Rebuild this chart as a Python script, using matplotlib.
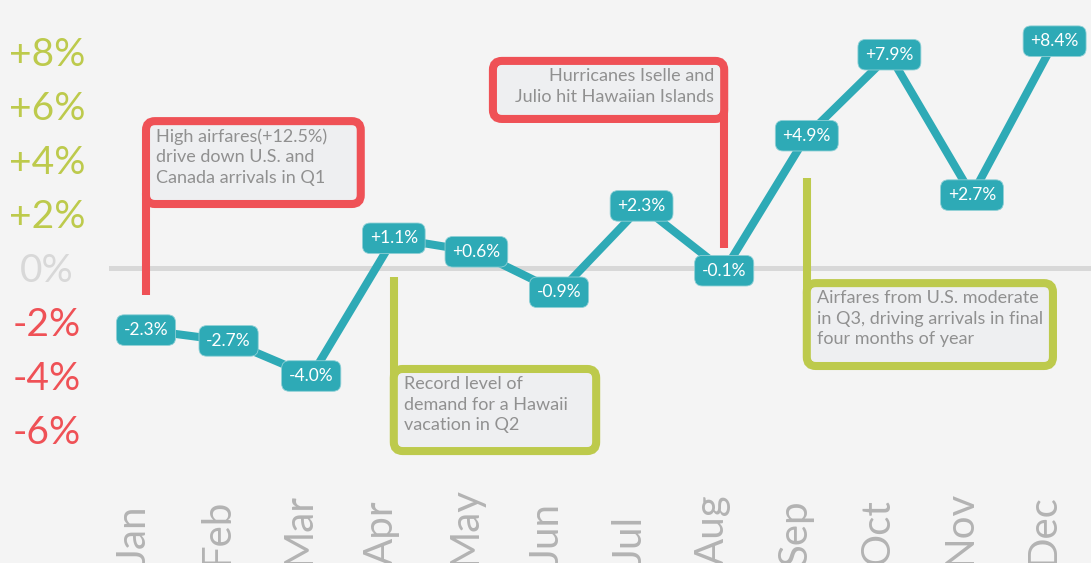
import matplotlib
matplotlib.use("Agg")
from matplotlib import pyplot as plt
from matplotlib import transforms
from matplotlib.patches import FancyBboxPatch

plt.rcParams['font.family'] = ['Lato', 'DejaVu Sans']

months = ['Jan', 'Feb', 'Mar', 'Apr', 'May', 'Jun',
          'Jul', 'Aug', 'Sep', 'Oct', 'Nov', 'Dec']
changes = [-2.3, -2.7, -4.0, 1.1, 0.6, -0.9, 2.3, -0.1, 4.9, 7.9, 2.7, 8.4]
ytick_values = [8, 6, 4, 2, 0, -2, -4, -6]

note_texts = [
    "High airfares(+12.5%)\ndrive down U.S. and\nCanada arrivals in Q1",
    "Hurricanes Iselle and\nJulio hit Hawaiian Islands",
    "Record level of\ndemand for a Hawaii\nvacation in Q2",
    "Airfares from U.S. moderate\nin Q3, driving arrivals in final\nfour months of year",
]

TEAL = '#2eaab6'
RED = '#ef5156'
GREEN = '#bdca4c'
ZERO = '#d8d8d8'
BG = '#f4f4f4'
BOX_BG = '#eeeff1'
NOTE = '#909090'
MONTH = '#b3b3b3'

W, H = 1091, 563
X_PX = 82.6   # pixels per month
Y_PX = 27.0   # pixels per percentage point
X0_PX, Y0_PX = 146, 268

# layout of the callouts: stem month, stem tip, box (left, right, bottom, top), text side
notes_layout = [
    (RED, 0, -1.0, (0, 2.6, 2.37, 5.44), 'left'),
    (RED, 7, 0.74, (4.2, 7, 5.52, 7.67), 'right'),
    (GREEN, 3, -0.33, (3, 5.45, -6.78, -3.74), 'left'),
    (GREEN, 8, 3.33, (8, 10.98, -3.63, -0.56), 'left'),
]

fig = plt.figure(figsize=(W / 100, H / 100), dpi=100, facecolor=BG)
ax = fig.add_axes([0, 0, 1, 1])
ax.set_facecolor(BG)
ax.axis('off')
ax.set_xlim(-X0_PX / X_PX, (W - X0_PX) / X_PX)
ax.set_ylim(-(H - Y0_PX) / Y_PX, Y0_PX / Y_PX)

x = list(range(len(months)))

# zero line and the series
ax.axhline(0, xmin=111 / W, color=ZERO, lw=3.6, zorder=1)
ax.plot(x, changes, color=TEAL, lw=5.8, solid_joinstyle='round',
        solid_capstyle='round', zorder=3)
for xi, v in zip(x, changes):
    ax.text(xi, v, f"{v:+.1f}%", ha='center', va='center', color='white',
            fontsize=12.5, zorder=4,
            bbox=dict(boxstyle='round,pad=0.42,rounding_size=0.45',
                      fc=TEAL, ec='#8fd0d6', lw=0.6))

# y labels
ytrans = transforms.blended_transform_factory(ax.transAxes, ax.transData)
for t in ytick_values:
    color = GREEN if t > 0 else (RED if t < 0 else ZERO)
    label = f"{t:+d}%" if t else "0%"
    ax.text(47 / W, t, label, transform=ytrans, ha='center',
            va='center_baseline', fontsize=28, color=color)

# month labels, running off the bottom edge
xtrans = (transforms.blended_transform_factory(ax.transData, ax.transAxes)
          + transforms.ScaledTranslation(-0.12, 0, fig.dpi_scale_trans))
for xi, m in zip(x, months):
    ax.text(xi, -2 / H, m, transform=xtrans, rotation=90,
            rotation_mode='anchor', ha='left', va='center',
            fontsize=29, color=MONTH)

# callouts
r = 9 / X_PX
for text, (color, sx, tip, box, side) in zip(note_texts, notes_layout):
    x0, x1, y0, y1 = box
    patch = FancyBboxPatch((x0, y0), x1 - x0, y1 - y0,
                           boxstyle=f"round,pad=0,rounding_size={r}",
                           mutation_aspect=X_PX / Y_PX,
                           fc=BOX_BG, ec=color, lw=5.8, zorder=2.5)
    ax.add_patch(patch)
    if tip < y0:
        end = y0 + 0.4
    else:
        end = y1 - 0.4
    ax.plot([sx, sx], [tip, end], color=color, lw=5.8,
            solid_capstyle='butt', zorder=2.4)
    if side == 'left':
        tx, dx = x0, 10
    else:
        tx, dx = x1, -10
    trans = transforms.offset_copy(ax.transData, fig=fig, x=dx, y=-7,
                                   units='dots')
    ax.text(tx, y1, text, transform=trans, ha=side, va='top',
            multialignment=side, fontsize=13, color=NOTE,
            linespacing=1.36, zorder=2.6)

fig.savefig('out.png', dpi=100, facecolor=BG)
